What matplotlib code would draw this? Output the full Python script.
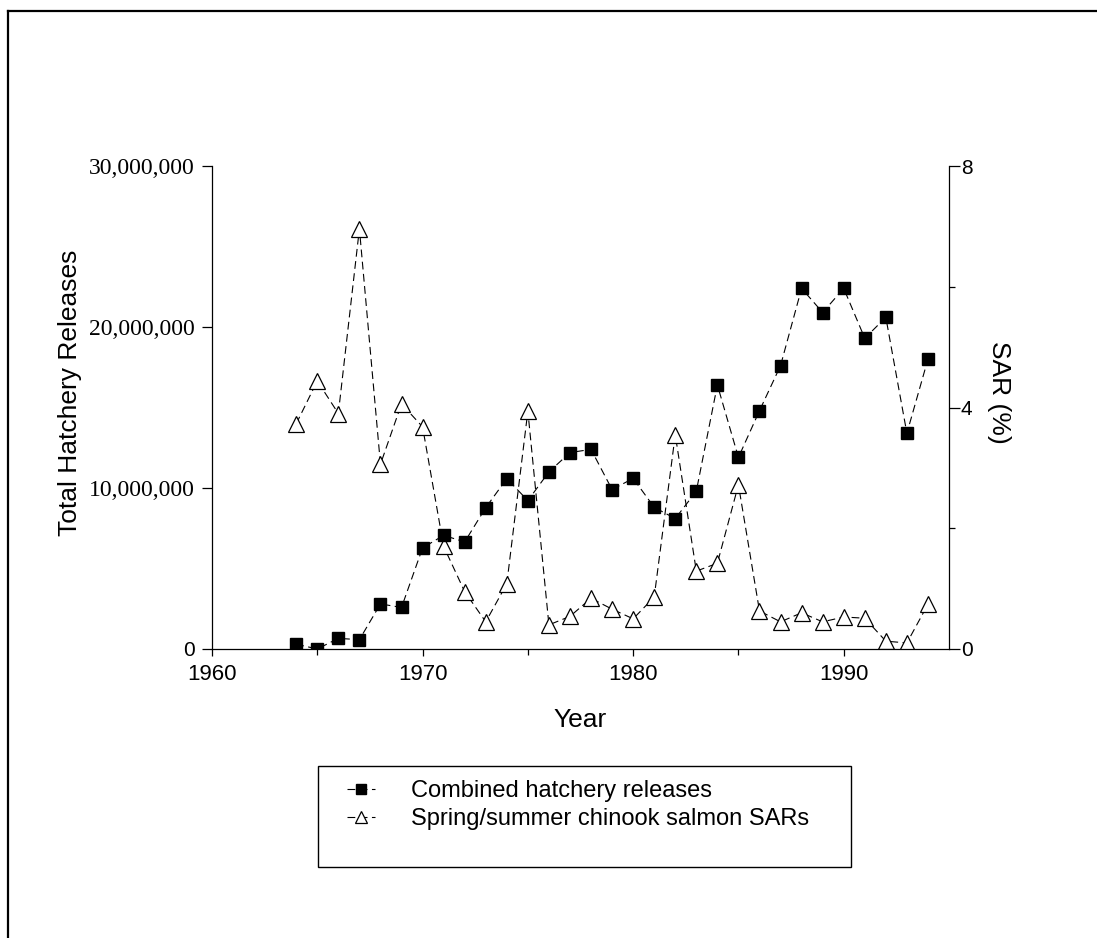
import matplotlib
matplotlib.use("Agg")
import matplotlib.pyplot as plt
from matplotlib.lines import Line2D
from matplotlib.patches import Rectangle
from matplotlib.ticker import FixedLocator

years = list(range(1964, 1995))
releases = [300000, 0, 660000, 580000, 2800000, 2580000, 6280000, 7060000, 6650000,
            8780000, 10580000, 9220000, 11000000, 12200000, 12400000, 9900000,
            10600000, 8800000, 8100000, 9800000, 16400000, 11900000, 14800000,
            17600000, 22400000, 20900000, 22400000, 19300000, 20600000, 13400000,
            18000000]
sars = [3.73, 4.44, 3.90, 6.96, 3.06, 4.06, 3.68, 1.70, 0.95, 0.45, 1.08, 3.94,
        0.40, 0.54, 0.84, 0.66, 0.50, 0.86, 3.55, 1.29, 1.42, 2.72, 0.63, 0.45,
        0.60, 0.45, 0.53, 0.51, 0.13, 0.10, 0.74]

left_ticks = [0, 10000000, 20000000, 30000000]
right_ticks = [0, 4, 8]
x_ticks = [1960, 1970, 1980, 1990]

W, H = 1097, 938
fig = plt.figure(figsize=(W / 100, H / 100), dpi=100)

def fx(px):
    return px / W

def fy(py):
    return 1 - py / H

ax = fig.add_axes([fx(212), fy(649), fx(949) - fx(212), fy(166) - fy(649)])
ax2 = ax.twinx()

sans = "Liberation Sans"
serif = "Liberation Serif"
dash = (0, (7, 4))

l2, = ax2.plot(years, sars, linestyle=dash, color="black", lw=0.8,
               marker="^", ms=11.5, mfc="white", mec="black", mew=0.9,
               label="Spring/summer chinook salmon SARs")
l1, = ax.plot(years, releases, linestyle=dash, color="black", lw=0.8,
              marker="s", ms=8.6, mfc="black", mec="black",
              label="Combined hatchery releases")

ax.set_zorder(ax2.get_zorder() + 1)
ax.patch.set_visible(False)

ax.set_xlim(1960, 1995)
ax.set_ylim(0, 30000000)
ax2.set_ylim(0, 8)

for a in (ax, ax2):
    for s in a.spines.values():
        s.set_linewidth(0.9)
ax.spines["top"].set_visible(False)
ax.spines["right"].set_visible(False)
ax2.spines["top"].set_visible(False)
ax2.spines["left"].set_visible(False)
ax2.spines["bottom"].set_visible(False)

ax.set_xticks(x_ticks)
ax.xaxis.set_minor_locator(FixedLocator([1965, 1975, 1985]))
ax.set_xticklabels([str(v) for v in x_ticks], fontfamily=sans, fontsize=16)
ax.tick_params(axis="x", which="major", direction="out", length=5, width=0.9, pad=6)
ax.tick_params(axis="x", which="minor", direction="out", length=4, width=0.9)

ax.set_yticks(left_ticks)
ax.set_yticklabels(["{:,}".format(v) for v in left_ticks], fontfamily=serif, fontsize=17)
for t in ax.get_yticklabels():
    if t.get_text() == "0":
        t.set_fontfamily(sans)
        t.set_fontsize(15)
ax.tick_params(axis="y", which="major", direction="out", length=7, width=0.9, pad=5.5)

ax2.set_yticks(right_ticks)
ax2.yaxis.set_minor_locator(FixedLocator([2, 6]))
ax2.set_yticklabels([str(v) for v in right_ticks], fontfamily=sans, fontsize=15)
ax2.tick_params(axis="y", which="major", direction="out", length=8, width=0.9, pad=0.5)
ax2.tick_params(axis="y", which="minor", direction="out", length=4, width=0.9)

fig.text(fx(70), fy(393), "Total Hatchery Releases", rotation=90, ha="center",
         va="center", fontfamily=sans, fontsize=19)
fig.text(fx(999), fy(392), "SAR (%)", rotation=270, ha="center",
         va="center", fontfamily=sans, fontsize=19)
fig.text(fx(580), fy(720), "Year", ha="center", va="center",
         fontfamily=sans, fontsize=19)

# legend box
fig.add_artist(Rectangle((fx(318), fy(867)), fx(851) - fx(318), fy(766) - fy(867),
                         transform=fig.transFigure, fill=False, ec="black", lw=1.0))
leg = fig.legend(handles=[l1, l2], loc="upper left",
                 bbox_to_anchor=(fx(347), fy(780)), frameon=False,
                 prop={"family": sans, "size": 17}, handlelength=1.2,
                 handletextpad=1.5, labelspacing=0.25, markerscale=0.8,
                 borderaxespad=0, borderpad=0)

# outer frame (left and top)
fig.add_artist(Line2D([fx(8), fx(8)], [0, fy(11)], transform=fig.transFigure,
                      color="black", lw=1.6))
fig.add_artist(Line2D([fx(8), 1], [fy(11), fy(11)], transform=fig.transFigure,
                      color="black", lw=1.6))

fig.savefig("out.png", dpi=100)
